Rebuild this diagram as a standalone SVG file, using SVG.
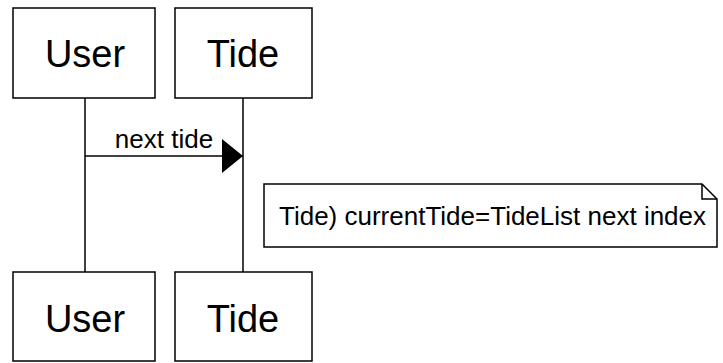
<svg xmlns="http://www.w3.org/2000/svg" width="723" height="363" viewBox="0 0 723 363">
<style>
.box{fill:#fff;stroke:#000;stroke-width:1.5}
.big{font-family:"Liberation Sans",Arial,sans-serif;font-size:38px;fill:#000;text-anchor:middle}
.sm{font-family:"Liberation Sans",Arial,sans-serif;font-size:26px;fill:#000}
.line{stroke:#000;stroke-width:1.5;fill:none}
</style>
<defs>
<marker id="ah" markerWidth="21" markerHeight="34" refX="21" refY="17" orient="auto" markerUnits="userSpaceOnUse">
<path d="M0,0 L21,17 L0,34 Z" fill="#000"/>
</marker>
</defs>
<g id="connectors">
<line class="line" x1="85" y1="98" x2="85" y2="272"/>
<line class="line" x1="243" y1="98" x2="243" y2="272"/>
<line class="line" x1="85" y1="156" x2="243" y2="156" marker-end="url(#ah)"/>
<text class="sm" x="164" y="148" text-anchor="middle">next tide</text>
</g>
<g id="user-top"><rect class="box" x="13" y="8" width="142" height="90"/><text class="big" x="85" y="67">User</text></g>
<g id="tide-top"><rect class="box" x="175" y="8" width="137" height="90"/><text class="big" x="243" y="67">Tide</text></g>
<g id="user-bottom"><rect class="box" x="13" y="272" width="142" height="89"/><text class="big" x="85" y="332">User</text></g>
<g id="tide-bottom"><rect class="box" x="175" y="272" width="137" height="89"/><text class="big" x="243" y="332">Tide</text></g>
<g id="note">
<path class="box" d="M264,184 H702 L717,199 V247 H264 Z"/>
<path class="line" d="M702,184 V199 H717"/>
<text class="sm" x="279" y="225">Tide) currentTide=TideList next index</text>
</g>
</svg>
